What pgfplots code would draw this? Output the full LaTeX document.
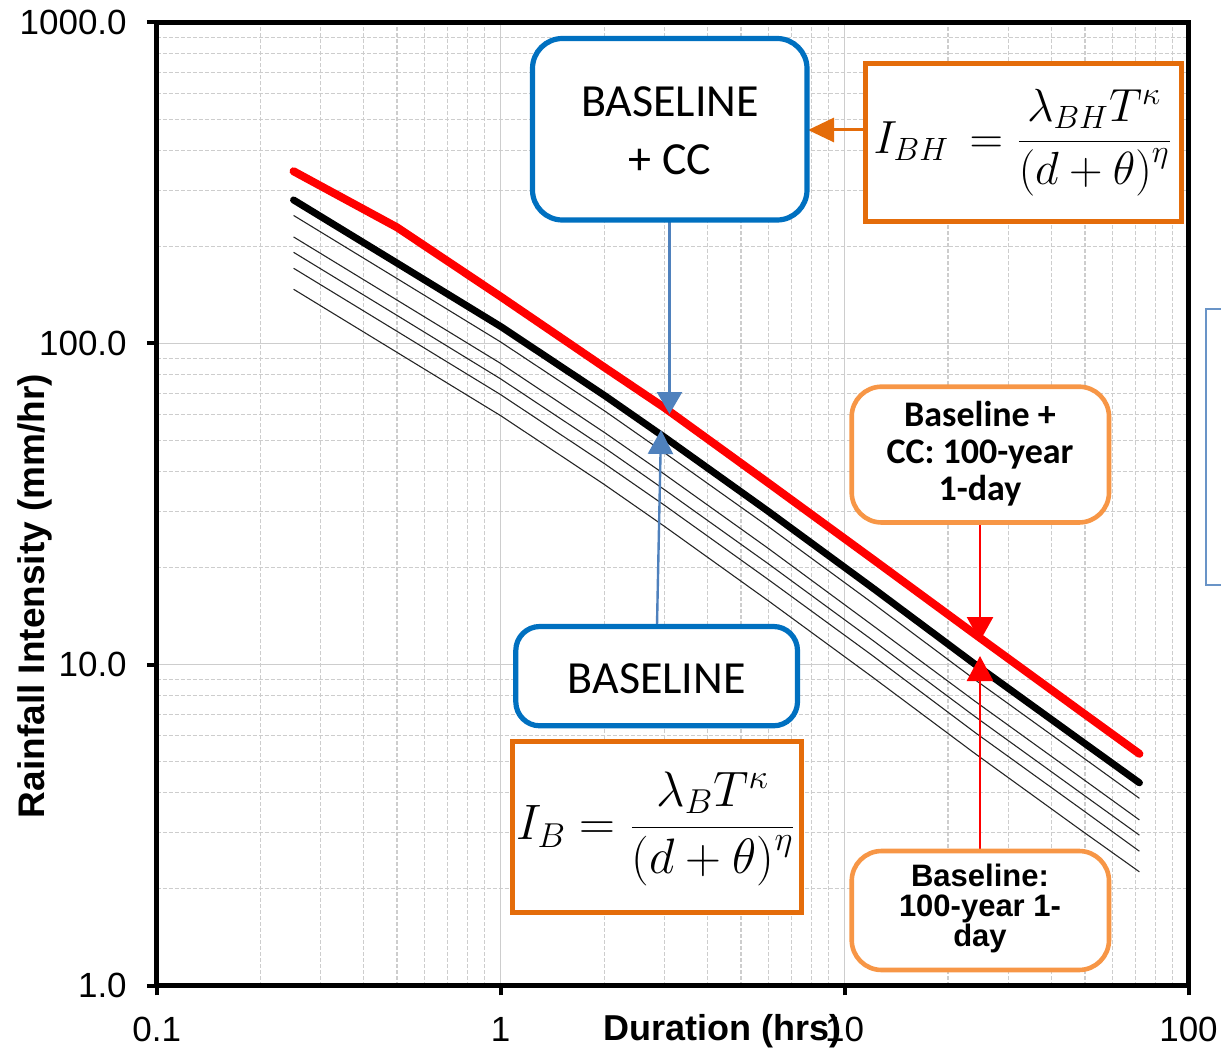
\documentclass[border=0pt]{standalone}
\usepackage{graphicx}
\usepackage{pgfplots}
\pgfplotsset{compat=1.18}
\usetikzlibrary{arrows.meta}
\usepackage{fontspec}
\setmainfont{Liberation Sans}
\newfontfamily\calibri{Carlito}
\definecolor{cred}{RGB}{255,0,0}
\definecolor{boxblue}{RGB}{0,112,192}
\definecolor{arrblue}{RGB}{79,129,189}
\definecolor{dorange}{RGB}{228,108,10}
\definecolor{lorange}{RGB}{247,150,70}
\definecolor{gridc}{RGB}{205,205,205}
\begin{document}
\begin{tikzpicture}
\begin{axis}[
  at={(78.35pt,-11.25pt)}, anchor=north west,
  width=515.9pt, height=481.5pt, scale only axis,
  xmode=log, ymode=log,
  xmin=0.1, xmax=100, ymin=1, ymax=1000,
  axis line style={line width=2.6pt},
  xtick={0.1,1,10,100}, xticklabels={0.1,1,10,100},
  ytick={1,10,100,1000}, yticklabels={1.0,10.0,100.0,1000.0},
  minor xtick={0.2,0.3,0.4,0.5,0.6,0.7,0.8,0.9,2,3,4,5,6,7,8,9,20,30,40,50,60,70,80,90},
  minor ytick={2,3,4,5,6,7,8,9,20,30,40,50,60,70,80,90,200,300,400,500,600,700,800,900},
  xtick pos=bottom, ytick pos=left,
  tick align=outside, major tick length=5pt, minor tick length=0pt,
  major tick style={line width=2pt, black},
  grid=both,
  major grid style={gridc, line width=0.8pt},
  minor grid style={gridc, line width=0.6pt, dash pattern=on 2pt off 1pt},
  ticklabel style={font=\fontsize{17.5}{20}\selectfont},
  xticklabel style={yshift=-7.5pt},
  yticklabel style={xshift=-6.5pt},
  xlabel={Duration (hrs)},
  ylabel={Rainfall Intensity (mm/hr)},
  xlabel style={at={(axis description cs:0.548,-0.047)}, anchor=center, font=\bfseries\fontsize{18}{20}\selectfont},
  ylabel style={at={(axis description cs:-0.118,0.4045)}, anchor=center, rotate=0, font=\bfseries\fontsize{18.5}{20}\selectfont},
]
\addplot[black!85, line width=0.55pt] coordinates {(0.25,250.6) (0.5,159.3) (1,101.1) (2,61.8) (3,45.6) (6,26.9) (12,15.6) (24,8.95) (48,5.24) (72,3.83)};
\addplot[black!85, line width=0.55pt] coordinates {(0.25,214.8) (0.5,136.5) (1,86.7) (2,52.9) (3,39.1) (6,23.0) (12,13.3) (24,7.67) (48,4.49) (72,3.28)};
\addplot[black!85, line width=0.55pt] coordinates {(0.25,192.4) (0.5,122.3) (1,77.6) (2,47.4) (3,35.0) (6,20.6) (12,11.95) (24,6.87) (48,4.02) (72,2.94)};
\addplot[black!85, line width=0.55pt] coordinates {(0.25,171.6) (0.5,109.1) (1,69.3) (2,42.3) (3,31.3) (6,18.4) (12,10.7) (24,6.13) (48,3.59) (72,2.62)};
\addplot[black!85, line width=0.55pt] coordinates {(0.25,147.6) (0.5,93.8) (1,59.6) (2,36.4) (3,26.9) (6,15.8) (12,9.17) (24,5.27) (48,3.08) (72,2.26)};
\addplot[black, line width=3.5pt, line cap=round, line join=round] coordinates {(0.25,280) (0.5,178) (1,113) (2,69) (3,51) (6,30) (12,17.4) (24,10.0) (48,5.85) (72,4.28)};
\addplot[cred, line width=4pt, line cap=round, line join=round] coordinates {(0.25,344) (0.5,230) (1,140) (2,84.4) (3,63) (6,36.8) (12,21.4) (24,12.4) (48,7.22) (72,5.27)};
\end{axis}
\begin{scope}[x=0.5pt,y=-0.5pt]
% arrows
\draw[arrblue, line width=1.2pt, -{Triangle[width=12.5pt,length=11pt]}] (669.5,221) -- (669.5,414);
\draw[arrblue, line width=1.2pt, -{Triangle[width=12.5pt,length=12pt]}] (657,625) -- (661,430);
\draw[dorange, line width=1.5pt, -{Triangle[width=12pt,length=13pt]}] (864,130) -- (808,130);
\draw[cred, line width=1.3pt, -{Triangle[width=13pt,length=12pt]}] (980,523) -- (980,641);
\draw[cred, line width=1.3pt, -{Triangle[width=13pt,length=12.5pt]}] (980,850) -- (980,656);
% blue boxes
\draw[boxblue, line width=2.6pt, fill=white, rounded corners=15pt] (532.5,38.5) rectangle (807,220);
\node[align=center, font=\calibri\fontsize{23}{29}\selectfont] at (670,131) {BASELINE\\+ CC};
\draw[boxblue, line width=2.6pt, fill=white, rounded corners=12pt] (515.8,626.5) rectangle (797.5,725.8);
\node[font=\calibri\fontsize{23}{29}\selectfont] at (656.7,678.3) {BASELINE};
% orange formula boxes
\draw[dorange, line width=2.5pt, fill=white] (865.5,64) rectangle (1181,221.7);
\node[font=\fontsize{22.5}{26}\selectfont] at (1023,143) {\scalebox{1.12}{$\displaystyle I_{BH}\,=\frac{\lambda_{BH}T^{\kappa}}{\big(d+\theta\big)^{\eta}}$}};
\draw[dorange, line width=2.5pt, fill=white] (512.5,741) rectangle (801,912.5);
\node[font=\fontsize{23}{27}\selectfont] at (656,829) {$\displaystyle I_{B}=\frac{\lambda_{B}T^{\kappa}}{\big(d+\theta\big)^{\eta}}$};
% light orange boxes
\draw[lorange, line width=2.3pt, fill=white, rounded corners=15pt] (851.7,386.7) rectangle (1109,522.5);
\node[align=center, font=\calibri\bfseries\fontsize{18}{18.5}\selectfont] at (980,454) {Baseline +\\CC: 100-year\\1-day};
\draw[lorange, line width=2.3pt, fill=white, rounded corners=15pt] (851.7,851) rectangle (1109,970);
\node[align=center, font=\bfseries\fontsize{15.5}{15}\selectfont] at (980,908) {Baseline:\\100-year 1-\\day};
% partial box at right edge
\draw[arrblue!85, line width=1pt] (1205.5,309.5) rectangle (1270,585);
\pgfresetboundingbox
\useasboundingbox (0,0) rectangle (1221,1048);
\end{scope}
\end{tikzpicture}
\end{document}
